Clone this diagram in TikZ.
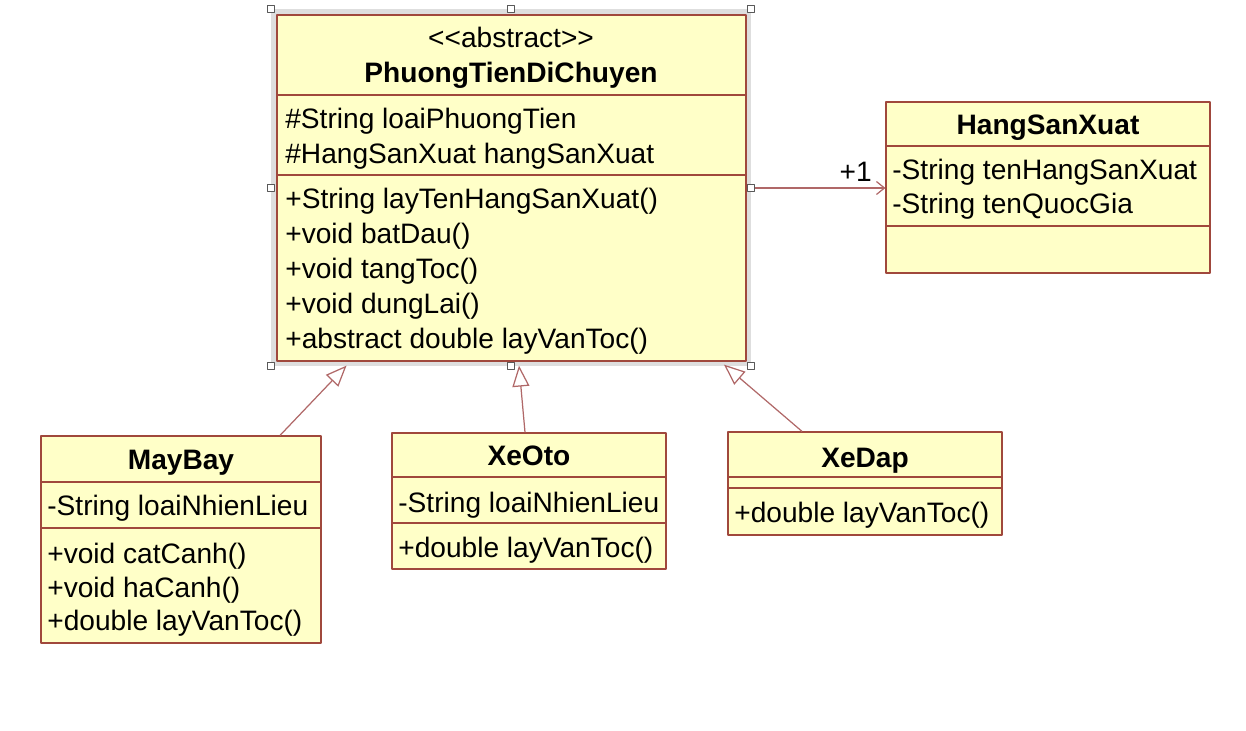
\documentclass[tikz,border=0pt]{standalone}
\usepackage{fontspec}
\setmainfont{Liberation Sans}
\usetikzlibrary{arrows.meta}
\definecolor{clsfill}{RGB}{255,255,200}
\definecolor{clsline}{RGB}{160,72,60}
\definecolor{linkcol}{RGB}{176,104,104}
\definecolor{selgray}{RGB}{222,222,222}

\begin{document}
\begin{tikzpicture}[x=0.02cm, y=-0.02cm, font=\fontsize{16}{19}\selectfont, line join=round,
		cls/.style={draw=clsline, fill=clsfill, line width=0.7pt, inner sep=0pt},
		mem/.style={anchor=base west, inner sep=0pt},
		ttl/.style={anchor=base, inner sep=0pt},
		inherit/.style={draw=linkcol, line width=0.7pt, -{Triangle[length=0.42cm, width=0.34cm, fill=white]}},
		assoc/.style={draw=linkcol, line width=0.7pt, -{Straight Barb[length=0.16cm, width=0.26cm]}},
		handle/.style={draw=gray!70!black, fill=white, line width=0.5pt, minimum size=0.14cm, inner sep=0pt}
		]
		\useasboundingbox (0,0) rectangle (1246,730);
		% selection frame
		\draw[selgray, line width=0.12cm] (274,12) rectangle (748,363);
		
		% abstract class
		\node[cls, minimum width=9.38cm, minimum height=6.92cm] (pt) at (511.5,188) {};
		\draw[clsline, line width=0.7pt] (pt.west |- 0,95) -- (pt.east |- 0,95);
		\draw[clsline, line width=0.7pt] (pt.west |- 0,175) -- (pt.east |- 0,175);
		\node[ttl] (ptst) at (511,47) {<{}<abstract>{}>};
		\node[ttl] (ptname) at (511,82) {\bfseries PhuongTienDiChuyen};
		\node[mem] (pta1) at (285,128) {\#String loaiPhuongTien};
		\node[mem] (pta2) at (285,163) {\#HangSanXuat hangSanXuat};
		\node[mem] (ptm1) at (285,208) {+String layTenHangSanXuat()};
		\node[mem] (ptm2) at (285,243) {+void batDau()};
		\node[mem] (ptm3) at (285,278) {+void tangToc()};
		\node[mem] (ptm4) at (285,313) {+void dungLai()};
		\node[mem] (ptm5) at (285,348) {+abstract double layVanToc()};
		\foreach \hx/\hy [count=\i] in {271/9, 511/9, 751/9, 271/188, 751/188, 271/366, 511/366, 751/366}
		\node[handle] (h\i) at (\hx,\hy) {};
		
		% HangSanXuat
		\node[cls, minimum width=6.48cm, minimum height=3.42cm] (hsx) at (1048,187.5) {};
		\draw[clsline, line width=0.7pt] (hsx.west |- 0,146) -- (hsx.east |- 0,146);
		\draw[clsline, line width=0.7pt] (hsx.west |- 0,226) -- (hsx.east |- 0,226);
		\node[ttl] (hsxname) at (1048,134) {\bfseries HangSanXuat};
		\node[mem] (hsxa1) at (892,179) {-String tenHangSanXuat};
		\node[mem] (hsxa2) at (892,213) {-String tenQuocGia};
		
		% MayBay
		\node[cls, minimum width=5.6cm, minimum height=4.14cm] (mb) at (181,539.5) {};
		\draw[clsline, line width=0.7pt] (mb.west |- 0,482) -- (mb.east |- 0,482);
		\draw[clsline, line width=0.7pt] (mb.west |- 0,528) -- (mb.east |- 0,528);
		\node[ttl] (mbname) at (181,469) {\bfseries MayBay};
		\node[mem] (mba1) at (47,515) {-String loaiNhienLieu};
		\node[mem] (mbm1) at (47,563) {+void catCanh()};
		\node[mem] (mbm2) at (47,597) {+void haCanh()};
		\node[mem] (mbm3) at (47,630) {+double layVanToc()};
		
		% XeOto
		\node[cls, minimum width=5.48cm, minimum height=2.72cm] (xo) at (529,501) {};
		\draw[clsline, line width=0.7pt] (xo.west |- 0,477) -- (xo.east |- 0,477);
		\draw[clsline, line width=0.7pt] (xo.west |- 0,523) -- (xo.east |- 0,523);
		\node[ttl] (xoname) at (529,465) {\bfseries XeOto};
		\node[mem] (xoa1) at (398,512) {-String loaiNhienLieu};
		\node[mem] (xom1) at (398,557) {+double layVanToc()};
		
		% XeDap
		\node[cls, minimum width=5.48cm, minimum height=2.06cm] (xd) at (865,483.5) {};
		\draw[clsline, line width=0.7pt] (xd.west |- 0,477) -- (xd.east |- 0,477);
		\draw[clsline, line width=0.7pt] (xd.west |- 0,488) -- (xd.east |- 0,488);
		\node[ttl] (xdname) at (865,467) {\bfseries XeDap};
		\node[mem] (xdm1) at (734,522) {+double layVanToc()};
		
		% links
		\draw[assoc] (h5) -- (h5 -| hsx.west);
		\node[anchor=base east, inner sep=0pt] (mult) at (872,181) {+1};
		\draw[inherit] ([xshift=1.98cm]mb.north) -- ([xshift=-3.3cm, yshift=-0.08cm]pt.south);
		\draw[inherit] ([xshift=-0.08cm]xo.north) -- ([xshift=0.15cm, yshift=-0.08cm]pt.south);
		\draw[inherit] ([xshift=-1.26cm]xd.north) -- ([xshift=4.25cm, yshift=-0.06cm]pt.south);
		
\end{tikzpicture}
\end{document}
